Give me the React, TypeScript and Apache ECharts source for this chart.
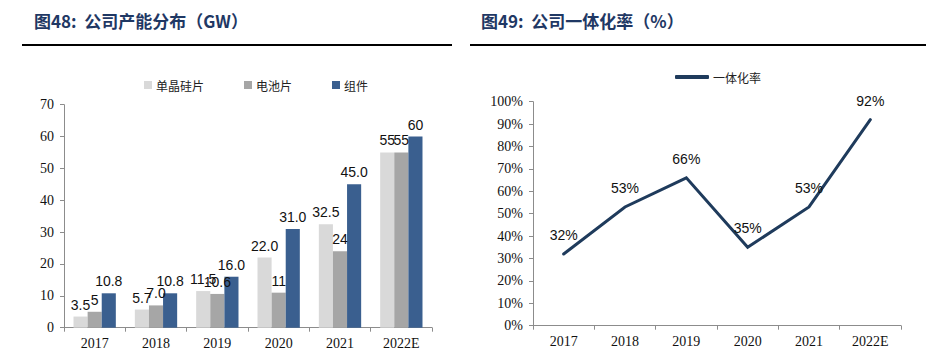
import React, { useEffect, useRef } from "react";
import * as echarts from "echarts";

const categories = ["2017", "2018", "2019", "2020", "2021", "2022E"];
const waferValues = [3.5, 5.7, 11.5, 22.0, 32.5, 55];
const cellValues = [5, 7.0, 10.6, 11, 24, 55];
const moduleValues = [10.8, 10.8, 16.0, 31.0, 45.0, 60];
const waferLabels = ["3.5", "5.7", "11.5", "22.0", "32.5", "55"];
const cellLabels = ["5", "7.0", "10.6", "11", "24", "55"];
const moduleLabels = ["10.8", "10.8", "16.0", "31.0", "45.0", "60"];
const rateValues = [32, 53, 66, 35, 53, 92];
const capacityTicks = [0, 10, 20, 30, 40, 50, 60, 70];
const rateTicks = [0, 10, 20, 30, 40, 50, 60, 70, 80, 90, 100];

const SERIF = "'Liberation Serif', 'DejaVu Serif', serif";
const SANS = "'Liberation Sans', Arial, sans-serif";
const CJK = "'Noto Sans CJK SC', sans-serif";
const AXIS = "#8c8c8c";
const TITLE = "#1f3864";

export default function App() {
  const ref = useRef<HTMLDivElement>(null);
  useEffect(() => {
    document.body.style.margin = "0";
    const chart = echarts.init(ref.current!, null, { renderer: "svg" });
    const catAxis = (gi: number) => ({
      type: "category",
      gridIndex: gi,
      data: categories,
      axisLine: { lineStyle: { color: AXIS, width: 1 } },
      axisTick: { show: true, length: 4, lineStyle: { color: AXIS } },
      axisLabel: { fontFamily: SERIF, fontSize: 14, color: "#111", margin: 9 },
    });
    const barLabel = (labels: string[]) => ({
      show: true,
      position: "top",
      distance: 5,
      fontFamily: SANS,
      fontSize: 14,
      color: "#111",
      formatter: (p: any) => labels[p.dataIndex],
    });
    chart.setOption({
      animation: false,
      backgroundColor: "#fff",
      textStyle: { fontFamily: SANS },
      graphic: [
        {
          type: "text",
          left: 34,
          top: 12,
          style: { text: "图48:  公司产能分布（GW）", fontFamily: CJK, fontWeight: "bold", fontSize: 17, fill: TITLE },
        },
        {
          type: "text",
          left: 481,
          top: 12,
          style: { text: "图49:  公司一体化率（%）", fontFamily: CJK, fontWeight: "bold", fontSize: 17, fill: TITLE },
        },
        { type: "rect", shape: { x: 22, y: 44, width: 430, height: 2 }, style: { fill: "#000" } },
        { type: "rect", shape: { x: 470, y: 44, width: 456, height: 2 }, style: { fill: "#000" } },
      ],
      legend: [
        {
          left: 139,
          top: 74,
          itemWidth: 8,
          itemHeight: 8,
          itemGap: 40,
          icon: "rect",
          textStyle: { fontFamily: CJK, fontSize: 12, color: "#222", padding: [0, 0, 0, -1] },
          data: ["单晶硅片", "电池片", "组件"],
        },
        {
          left: 670,
          top: 66,
          itemWidth: 34,
          itemHeight: 4,
          icon: "roundRect",
          textStyle: { fontFamily: CJK, fontSize: 12, color: "#222", padding: [0, 0, 0, -1] },
          data: ["一体化率"],
        },
      ],
      grid: [
        { left: 64, right: 494, top: 104.7, bottom: 28.3 },
        { left: 533, right: 25, top: 101.7, bottom: 30.3 },
      ],
      xAxis: [catAxis(0), catAxis(1)],
      yAxis: [
        {
          type: "value",
          gridIndex: 0,
          min: capacityTicks[0],
          max: capacityTicks[capacityTicks.length - 1],
          interval: 10,
          axisLine: { show: true, lineStyle: { color: AXIS } },
          axisTick: { show: true, length: 4, lineStyle: { color: AXIS } },
          splitLine: { show: false },
          axisLabel: { fontFamily: SERIF, fontSize: 14, color: "#111", margin: 10 },
        },
        {
          type: "value",
          gridIndex: 1,
          min: rateTicks[0],
          max: rateTicks[rateTicks.length - 1],
          interval: 10,
          axisLine: { show: true, lineStyle: { color: AXIS } },
          axisTick: { show: true, length: 4, lineStyle: { color: AXIS } },
          splitLine: { show: false },
          axisLabel: { fontFamily: SERIF, fontSize: 14, color: "#111", margin: 10, formatter: "{value}%" },
        },
      ],
      series: [
        {
          name: "单晶硅片",
          type: "bar",
          xAxisIndex: 0,
          yAxisIndex: 0,
          data: waferValues,
          barGap: "0%",
          barCategoryGap: "31%",
          itemStyle: { color: "#d9d9d9" },
          label: barLabel(waferLabels),
        },
        {
          name: "电池片",
          type: "bar",
          xAxisIndex: 0,
          yAxisIndex: 0,
          data: cellValues,
          itemStyle: { color: "#a6a6a6" },
          label: barLabel(cellLabels),
        },
        {
          name: "组件",
          type: "bar",
          xAxisIndex: 0,
          yAxisIndex: 0,
          data: moduleValues,
          itemStyle: { color: "#3a5f8f" },
          label: barLabel(moduleLabels),
        },
        {
          name: "一体化率",
          type: "line",
          xAxisIndex: 1,
          yAxisIndex: 1,
          data: rateValues,
          symbol: "circle",
          symbolSize: 0,
          showSymbol: true,
          lineStyle: { color: "#1f3b5c", width: 3, cap: "round", join: "miter" },
          itemStyle: { color: "#1f3b5c" },
          label: {
            show: true,
            position: "top",
            distance: 12,
            fontFamily: SANS,
            fontSize: 14,
            color: "#111",
            formatter: "{c}%",
          },
        },
      ],
    });
    return () => chart.dispose();
  }, []);
  return <div ref={ref} style={{ width: 926, height: 356 }} />;
}
